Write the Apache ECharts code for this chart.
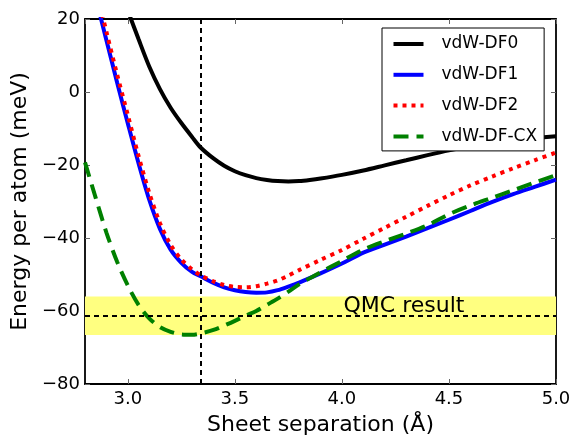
<!DOCTYPE html>
<html>
<head>
<meta charset="utf-8">
<script src="https://cdn.jsdelivr.net/npm/echarts@6/dist/echarts.min.js"></script>
<style>
html,body{margin:0;padding:0;background:#fff;}
#chart{width:574px;height:441px;}
</style>
</head>
<body>
<div id="chart"></div>
<script>
// ---- data ----
const seriesNames = ['vdW-DF0', 'vdW-DF1', 'vdW-DF2', 'vdW-DF-CX'];

const df0X = [3.0, 3.05, 3.1, 3.15, 3.2, 3.25, 3.3, 3.34, 3.4, 3.45, 3.5, 3.55, 3.6, 3.65, 3.7, 3.75, 3.8, 3.85, 3.9, 4.0, 4.1, 4.2, 4.3, 4.4, 4.5, 4.6, 4.7, 4.8, 4.9, 5.0];
const df0Y = [22.3, 14.5, 7.0, 0.8, -4.3, -8.5, -12.3, -15.2, -18.2, -20.2, -21.7, -22.8, -23.6, -24.1, -24.4, -24.5, -24.4, -24.1, -23.7, -22.7, -21.5, -20.1, -18.7, -17.3, -16.0, -14.9, -14.0, -13.2, -12.6, -12.1];

const df1X = [2.86, 2.9, 2.95, 3.0, 3.05, 3.1, 3.15, 3.2, 3.25, 3.3, 3.34, 3.4, 3.45, 3.5, 3.55, 3.6, 3.65, 3.7, 3.75, 3.8, 3.9, 4.0, 4.1, 4.2, 4.3, 4.4, 4.5, 4.6, 4.7, 4.8, 4.9, 5.0];
const df1Y = [23.5, 14.2, 2.6, -8.6, -19.5, -29.5, -37.5, -43.2, -46.8, -49.3, -50.5, -52.3, -53.5, -54.3, -54.8, -55.0, -54.9, -54.3, -53.3, -52.2, -49.7, -47.0, -44.0, -41.8, -39.6, -37.3, -35.0, -32.6, -30.2, -28.0, -26.0, -24.0];

const df2X = [2.87, 2.9, 2.95, 3.0, 3.05, 3.1, 3.15, 3.2, 3.25, 3.3, 3.34, 3.4, 3.45, 3.5, 3.55, 3.6, 3.65, 3.7, 3.75, 3.8, 3.9, 4.0, 4.1, 4.2, 4.3, 4.4, 4.5, 4.6, 4.7, 4.8, 4.9, 5.0];
const df2Y = [23.8, 16.5, 4.8, -6.3, -17.5, -27.6, -35.9, -41.9, -45.9, -48.6, -50.2, -51.9, -52.9, -53.4, -53.5, -53.2, -52.5, -51.6, -50.3, -48.8, -46.0, -43.3, -40.2, -37.2, -34.2, -31.2, -28.3, -25.6, -23.2, -20.9, -18.7, -16.6];

const cxX = [2.8, 2.85, 2.9, 2.95, 3.0, 3.05, 3.1, 3.15, 3.2, 3.25, 3.3, 3.35, 3.4, 3.45, 3.5, 3.55, 3.6, 3.65, 3.7, 3.75, 3.8, 3.9, 4.0, 4.1, 4.2, 4.3, 4.4, 4.5, 4.6, 4.7, 4.8, 4.9, 5.0];
const cxY = [-19.3, -29.0, -38.5, -46.5, -53.0, -58.3, -62.0, -64.4, -65.7, -66.4, -66.5, -66.0, -65.2, -64.0, -62.7, -61.3, -60.0, -58.3, -56.6, -54.7, -52.7, -49.4, -46.3, -43.2, -40.9, -38.8, -36.5, -33.5, -31.1, -29.0, -26.9, -24.8, -22.8];

const exptSeparation = 3.34;     // vertical dashed line
const qmcEnergy = -61.2;         // horizontal dashed line
const qmcBand = [-56.0, -66.6];  // yellow error band
const qmcLabel = 'QMC result';
const qmcLabelAt = [4.29, -58.7];

const xRange = [2.8, 5.0];
const yRange = [-80, 20];
const yStep = 20;

// ---- chart ----
const zip = (xs, ys) => xs.map((x, i) => [x, ys[i]]);
const FONT = 'DejaVu Sans';
const chart = echarts.init(document.getElementById('chart'), null, {renderer: 'canvas'});

const frameLine = {show: true, onZero: false, lineStyle: {color: '#000', width: 1.8}};
const tickStyle = {show: true, inside: true, length: 5, lineStyle: {color: '#666', width: 1}};

const lineBase = {type: 'line', symbol: 'none', showSymbol: false, smooth: 0.3, clip: true, z: 3};

chart.setOption({
  animation: false,
  backgroundColor: '#fff',
  textStyle: {fontFamily: FONT},
  grid: {left: 85, right: 18, top: 19, bottom: 52, containLabel: false},
  legend: {
    data: seriesNames,
    orient: 'vertical',
    left: 382, top: 28,
    itemWidth: 30, itemHeight: 14, itemGap: 13.8,
    padding: [7.5, 7, 6, 9.5],
    backgroundColor: '#fff',
    borderColor: '#000', borderWidth: 1, borderRadius: 0,
    itemStyle: {color: 'rgba(0,0,0,0)', borderWidth: 0, opacity: 0},
    lineStyle: {width: 4},
    textStyle: {fontFamily: FONT, fontSize: 17, color: '#000', padding: [0, 0, 0, 13]},
    z: 10
  },
  xAxis: [{
    type: 'value', min: xRange[0], max: xRange[1], splitNumber: 4,
    position: 'bottom',
    name: 'Sheet separation (Å)', nameLocation: 'middle', nameGap: 41,
    nameTextStyle: {fontFamily: FONT, fontSize: 22, color: '#000', verticalAlign: 'middle'},
    axisLine: frameLine, axisTick: tickStyle, splitLine: {show: false},
    axisLabel: {showMinLabel: false, margin: 6, fontFamily: FONT, fontSize: 18, color: '#000',
      formatter: v => v.toFixed(1)}
  }, {
    type: 'value', min: xRange[0], max: xRange[1], splitNumber: 4,
    position: 'top',
    axisLine: frameLine, axisTick: tickStyle, splitLine: {show: false}, axisLabel: {show: false}
  }],
  yAxis: [{
    type: 'value', min: yRange[0], max: yRange[1], interval: yStep,
    position: 'left',
    name: 'Energy per atom (meV)', nameLocation: 'middle', nameGap: 62,
    nameTextStyle: {fontFamily: FONT, fontSize: 22, color: '#000', verticalAlign: 'middle'},
    axisLine: frameLine, axisTick: tickStyle, splitLine: {show: false},
    axisLabel: {margin: 5, fontFamily: FONT, fontSize: 18, color: '#000',
      formatter: v => String(v).replace('-', '\u2212')}
  }, {
    type: 'value', min: yRange[0], max: yRange[1], interval: yStep,
    position: 'right',
    axisLine: frameLine, axisTick: tickStyle, splitLine: {show: false}, axisLabel: {show: false}
  }],
  series: [
    {
      name: 'QMC', type: 'line', data: [], symbol: 'none',
      markArea: {
        silent: true,
        itemStyle: {color: '#ffff80', opacity: 1},
        data: [[{yAxis: qmcBand[0]}, {yAxis: qmcBand[1]}]]
      },
      markLine: {
        silent: true, symbol: ['none', 'none'],
        label: {show: false},
        lineStyle: {color: '#000', width: 2, type: [5, 4]},
        data: [{xAxis: exptSeparation}, {yAxis: qmcEnergy}]
      },
      markPoint: {
        silent: true, symbol: 'circle', symbolSize: 1,
        itemStyle: {color: 'rgba(0,0,0,0)'},
        label: {show: true, position: 'inside', formatter: qmcLabel, fontFamily: FONT, fontSize: 22, color: '#000'},
        data: [{coord: qmcLabelAt}]
      }
    },
    Object.assign({}, lineBase, {name: seriesNames[0], data: zip(df0X, df0Y),
      itemStyle: {color: '#000'}, lineStyle: {color: '#000', width: 4}}),
    Object.assign({}, lineBase, {name: seriesNames[1], data: zip(df1X, df1Y),
      itemStyle: {color: '#0000ff'}, lineStyle: {color: '#0000ff', width: 4}}),
    Object.assign({}, lineBase, {name: seriesNames[2], data: zip(df2X, df2Y),
      itemStyle: {color: '#ff0000'}, lineStyle: {color: '#ff0000', width: 4, type: [4, 5]}}),
    Object.assign({}, lineBase, {name: seriesNames[3], data: zip(cxX, cxY),
      itemStyle: {color: '#008000'}, lineStyle: {color: '#008000', width: 4, type: [15, 8]}})
  ]
});
</script>
</body>
</html>
